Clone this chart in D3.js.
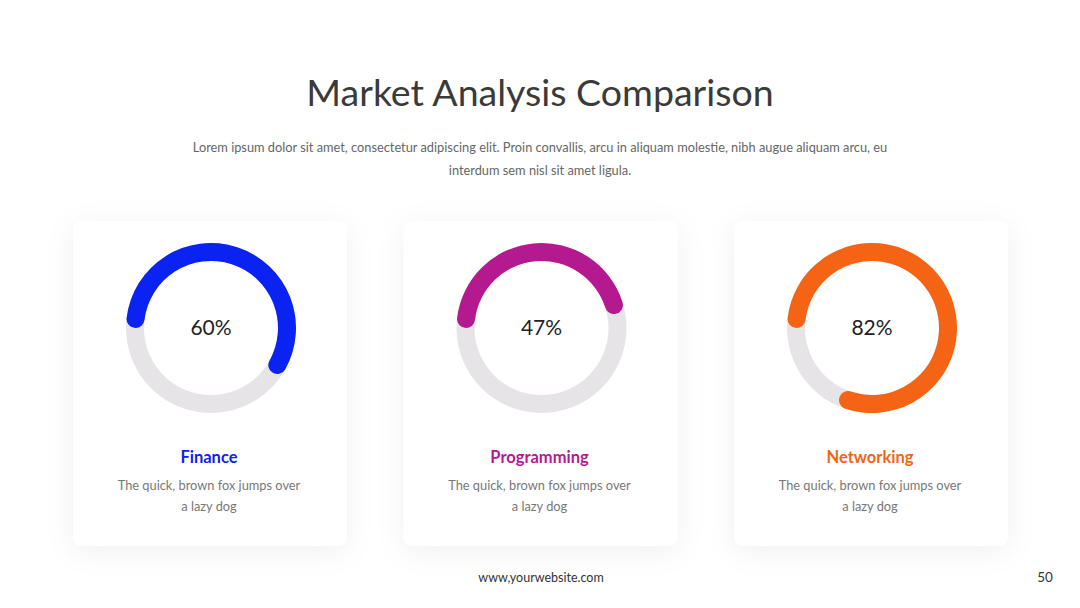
<!DOCTYPE html>
<html>
<head>
<meta charset="utf-8">
<script src="https://cdn.jsdelivr.net/npm/d3@7"></script>
<style>
  html, body { margin: 0; padding: 0; background: #ffffff; }
  svg { display: block; }
</style>
</head>
<body>
<svg id="chart" width="1080" height="608"></svg>
<script>
// ---- data ----
const categories = ["Finance", "Programming", "Networking"];
const values = [60, 47, 82];
const colors = ["#0a22f2", "#b5198f", "#f56414"];
const descriptions = ["The quick, brown fox jumps over", "The quick, brown fox jumps over", "The quick, brown fox jumps over"];
const descriptions2 = ["a lazy dog", "a lazy dog", "a lazy dog"];
const titleText = "Market Analysis Comparison";
const subtitleLines = [
  "Lorem ipsum dolor sit amet, consectetur adipiscing elit. Proin convallis, arcu in aliquam molestie, nibh augue aliquam arcu, eu",
  "interdum sem nisl sit amet ligula."
];
const footerText = "www,yourwebsite.com";
const pageNumber = "50";

// ---- layout ----
const W = 1080, H = 608;
const svg = d3.select("#chart");
const font = "Lato, 'Open Sans', sans-serif";

const defs = svg.append("defs");
const f = defs.append("filter").attr("id", "shadow")
  .attr("x", "-30%").attr("y", "-30%").attr("width", "160%").attr("height", "160%");
f.append("feDropShadow").attr("dx", 0).attr("dy", 5).attr("stdDeviation", 14)
  .attr("flood-color", "#000").attr("flood-opacity", 0.06);

svg.append("text").attr("x", 540).attr("y", 106).attr("text-anchor", "middle")
  .attr("font-family", font).attr("font-size", 37.5).attr("fill", "#3a3a3a")
  .text(titleText);

subtitleLines.forEach((t, i) => {
  svg.append("text").attr("x", 540).attr("y", 152 + i * 23).attr("text-anchor", "middle")
    .attr("font-family", font).attr("font-size", 12.8).attr("fill", "#666666")
    .text(t);
});

const x = d3.scaleBand().domain(categories).range([73, 1008]).paddingInner(0.171);
const angle = d3.scaleLinear().domain([0, 100]).range([-Math.PI / 2, 3 * Math.PI / 2]);
const rOuter = 85, thick = 18;
const arc = d3.arc().innerRadius(rOuter - thick).outerRadius(rOuter).cornerRadius(thick / 2);
const track = d3.arc().innerRadius(rOuter - thick).outerRadius(rOuter);

const cards = svg.selectAll("g.card").data(categories).join("g").attr("class", "card")
  .attr("transform", d => `translate(${x(d)},221)`);

cards.append("rect").attr("width", x.bandwidth()).attr("height", 325)
  .attr("rx", 9).attr("fill", "#ffffff").attr("filter", "url(#shadow)");

const cx = () => x.bandwidth() / 2 + 1;
const ring = cards.append("g").attr("transform", d => `translate(${cx()},107)`);

ring.append("path")
  .attr("d", track({ startAngle: 0, endAngle: 2 * Math.PI }))
  .attr("fill", "#e6e4e6");

ring.append("path")
  .attr("d", (d, i) => arc({ startAngle: angle(0), endAngle: angle(values[i]) }))
  .attr("fill", (d, i) => colors[i]);

ring.append("text").attr("text-anchor", "middle").attr("dy", "0.35em")
  .attr("font-family", font).attr("font-size", 21).attr("fill", "#222222")
  .text((d, i) => values[i] + "%");

cards.append("text").attr("x", cx() - 2).attr("y", 242).attr("text-anchor", "middle")
  .attr("font-family", font).attr("font-weight", "bold").attr("font-size", 16.5)
  .attr("fill", (d, i) => colors[i]).text(d => d);

cards.append("text").attr("x", cx() - 2).attr("y", 269).attr("text-anchor", "middle")
  .attr("font-family", font).attr("font-size", 12.8).attr("fill", "#777777")
  .text((d, i) => descriptions[i]);
cards.append("text").attr("x", cx() - 2).attr("y", 290).attr("text-anchor", "middle")
  .attr("font-family", font).attr("font-size", 12.8).attr("fill", "#777777")
  .text((d, i) => descriptions2[i]);

svg.append("text").attr("x", 541).attr("y", 582).attr("text-anchor", "middle")
  .attr("font-family", font).attr("font-size", 12.5).attr("fill", "#333333").text(footerText);
svg.append("text").attr("x", 1045).attr("y", 582).attr("text-anchor", "middle")
  .attr("font-family", font).attr("font-size", 13.5).attr("fill", "#333333").text(pageNumber);
</script>
</body>
</html>
